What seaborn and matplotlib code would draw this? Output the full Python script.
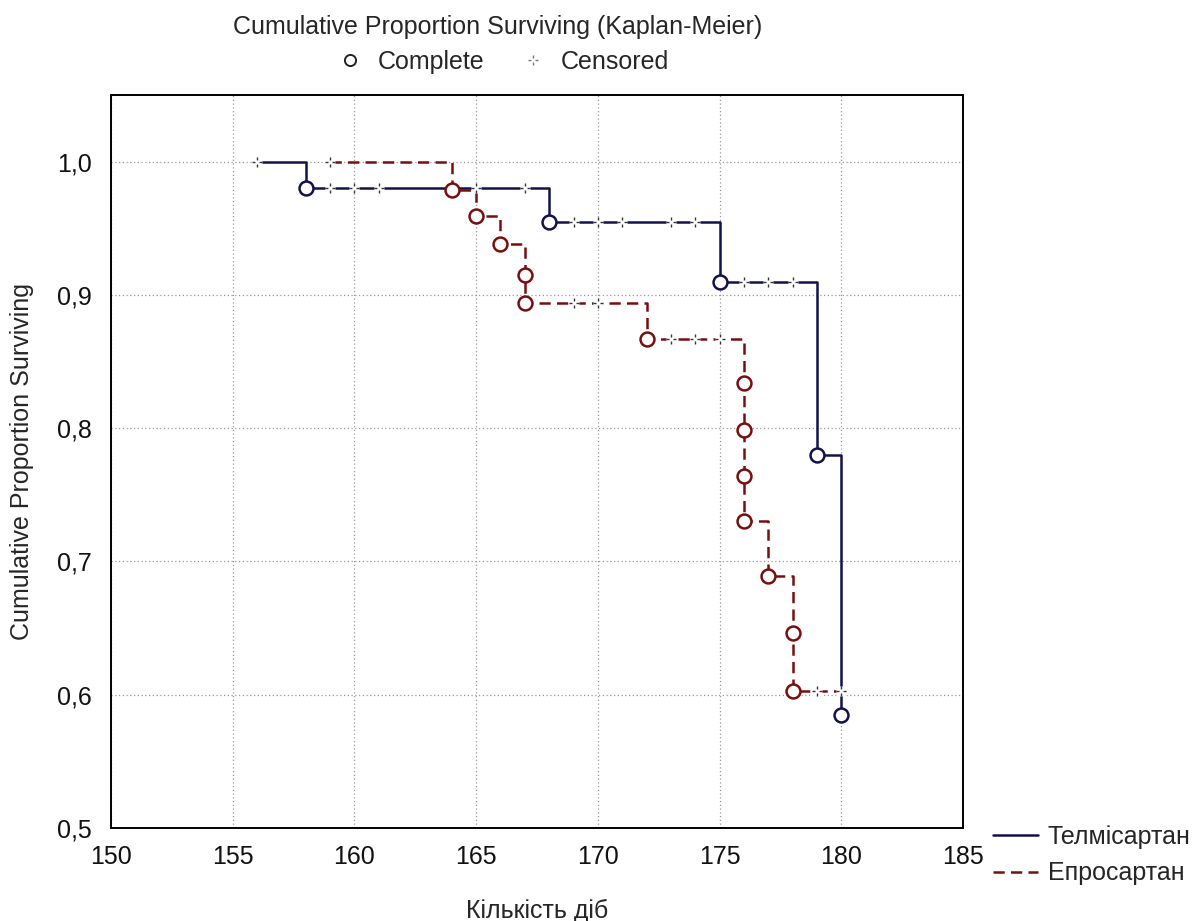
import numpy as np
import pandas as pd
import seaborn as sns
from matplotlib import pyplot as plt
from matplotlib.lines import Line2D
from matplotlib.path import Path
from matplotlib.ticker import FuncFormatter, MultipleLocator

sns.set_style("white")
plt.rcParams["font.family"] = ["Liberation Sans", "DejaVu Sans"]

# Telmisartan (solid navy)
telmi_event_t = [158, 168, 175, 179, 180]
telmi_event_s = [0.980, 0.955, 0.910, 0.780, 0.585]
telmi_cens_t = [156, 159, 160, 161, 165, 167, 169, 170, 171, 173, 174, 176, 177, 178]
telmi_cens_s = [1.0, 0.980, 0.980, 0.980, 0.980, 0.980, 0.955, 0.955, 0.955,
                0.955, 0.955, 0.910, 0.910, 0.910]

# Eprosartan (dashed maroon)
epro_event_t = [164, 165, 166, 167, 167, 172, 176, 176, 176, 176, 177, 178, 178]
epro_event_s = [0.979, 0.959, 0.938, 0.915, 0.894, 0.867, 0.834, 0.799, 0.764,
                0.730, 0.689, 0.646, 0.603]
epro_cens_t = [159, 169, 170, 173, 174, 175, 179, 180]
epro_cens_s = [1.0, 0.894, 0.894, 0.867, 0.867, 0.867, 0.603, 0.603]

names = ["Телмісартан", "Епросартан"]
colors = {"Телмісартан": "#12124a", "Епросартан": "#780f0f"}

groups = {
    "Телмісартан": (telmi_event_t, telmi_event_s, telmi_cens_t, telmi_cens_s),
    "Епросартан": (epro_event_t, epro_event_s, epro_cens_t, epro_cens_s),
}

FS = 18


def step_frame(name, ev_t, ev_s, ce_t, ce_s):
    """Start at the first observation, go through every event, end at the last one"""
    t = [min(ce_t)] + list(ev_t)
    s = [1.0] + list(ev_s)
    if max(ce_t) > max(ev_t):
        t.append(max(ce_t))
        s.append(ev_s[-1])
    return pd.DataFrame({"t": t, "s": s, "drug": name})


steps = pd.concat([step_frame(n, *groups[n]) for n in names], ignore_index=True)

# dotted cross used for censored observations
cross = Path(
    [(0, 0.45), (0, 1), (0, -1), (0, -0.45), (-1, 0), (-0.45, 0), (0.45, 0), (1, 0)],
    [Path.MOVETO, Path.LINETO] * 4,
)

fig = plt.figure(figsize=(12.03, 9.21), dpi=100)
ax = fig.add_axes([111 / 1203, 1 - 828 / 921, 852 / 1203, 733 / 921])

sns.lineplot(
    data=steps, x="t", y="s", hue="drug", style="drug",
    palette=colors, dashes={"Телмісартан": "", "Епросартан": (4.5, 2.5)},
    estimator=None, sort=False, drawstyle="steps-post", lw=1.8,
    legend=False, ax=ax, zorder=3,
)

for n in names:
    ev_t, ev_s, ce_t, ce_s = groups[n]
    # white gap behind censored marks, then the mark itself
    ax.plot(ce_t, ce_s, ls="", marker="s", ms=7, mfc="white", mec="none", zorder=4)
    ax.plot(ce_t, ce_s, ls="", marker=cross, ms=7, mec="#333333", mew=1.0, zorder=5)
    sns.scatterplot(x=ev_t, y=ev_s, marker="o", s=100, color="white",
                    edgecolor=colors[n], linewidth=1.8, zorder=6, ax=ax)

ax.set_xlim(150, 185)
ax.set_ylim(0.5, 1.05)
ax.xaxis.set_major_locator(MultipleLocator(5))
ax.yaxis.set_major_formatter(FuncFormatter(lambda v, _: f"{v:.1f}".replace(".", ",")))
ax.set_yticks(np.arange(0.5, 1.01, 0.1))
ax.grid(True, ls=(0, (1, 2)), color="#9a9a9a", lw=0.9)
ax.tick_params(labelsize=FS, length=4, direction="in", colors="#111111")
ax.tick_params(axis="x", pad=12)
ax.tick_params(axis="y", pad=14)
for sp in ax.spines.values():
    sp.set_color("black")
    sp.set_linewidth(1.4)

ax.set_xlabel("Кількість діб", fontsize=FS, labelpad=22)
ax.set_ylabel("Cumulative Proportion Surviving", fontsize=FS, labelpad=16)

fig.text(498 / 1203, 1 - 27 / 921, "Cumulative Proportion Surviving (Kaplan-Meier)",
         ha="center", va="center", fontsize=FS)

top_handles = [
    Line2D([], [], ls="", marker="o", ms=8, mfc="white", mec="#222222", mew=1.4),
    Line2D([], [], ls="", marker=cross, ms=7, mec="#777777", mew=1.0),
]
fig.legend(top_handles, ["Complete", "Censored"], loc="center", ncol=2,
           bbox_to_anchor=(502 / 1203, 1 - 62 / 921), frameon=False,
           fontsize=FS, handletextpad=0.5, columnspacing=1.35, handlelength=1.2)

line_handles = [
    Line2D([], [], color=colors["Телмісартан"], lw=1.8),
    Line2D([], [], color=colors["Епросартан"], lw=1.8, dashes=(4.5, 2.5)),
]
fig.legend(line_handles, names, loc="center left",
           bbox_to_anchor=(993 / 1203, 1 - 855 / 921), frameon=False,
           borderaxespad=0, borderpad=0,
           fontsize=FS, handlelength=1.8, handletextpad=0.4, labelspacing=0.5)

fig.savefig("out.png", dpi=100)
